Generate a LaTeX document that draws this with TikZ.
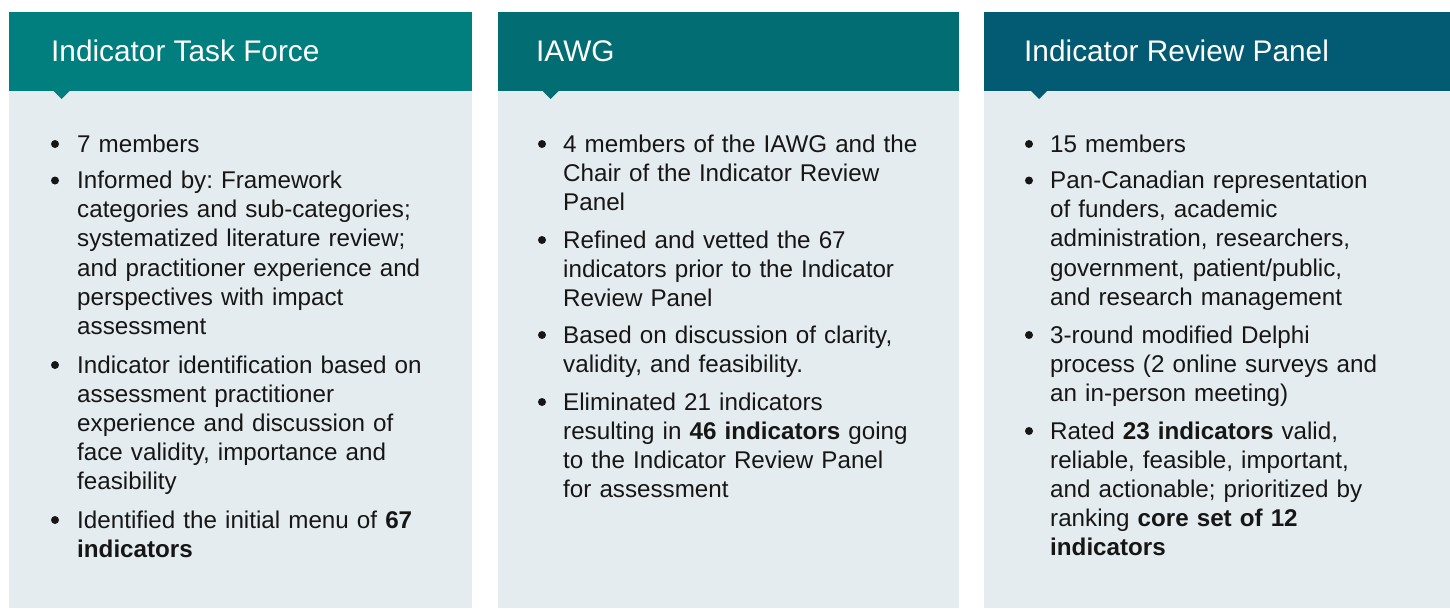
\documentclass[tikz,border=0pt]{standalone}
\usepackage{fontspec}
\setmainfont{Liberation Sans}
\frenchspacing
\definecolor{hA}{HTML}{017F7F}
\definecolor{hB}{HTML}{026E73}
\definecolor{hC}{HTML}{025B73}
\definecolor{bodybg}{HTML}{E4ECF0}
\definecolor{txt}{HTML}{161616}
\begin{document}
\begin{tikzpicture}[x=1pt,y=-1pt,
  body/.style={font=\fontsize{24.2}{29.2}\selectfont, text=txt, anchor=base west, inner sep=0pt, text width=400pt, align=left},
  head/.style={font=\fontsize{29.8}{34}\selectfont, text=white, anchor=base west, inner sep=0pt},
  dot/.style={circle, fill=txt, minimum size=8pt, inner sep=0pt}]
\useasboundingbox (0,0) rectangle (1450,608);
% panel backgrounds
\fill[bodybg] (9,91) rectangle (472,608);
\fill[bodybg] (498,91) rectangle (959,608);
\fill[bodybg] (984,91) rectangle (1450,608);
% headers
\fill[hA] (9,12) rectangle (472,91);
\fill[hA] (52.7,90) -- (70.7,90) -- (61.7,99) -- cycle;
\fill[hB] (498,12) rectangle (959,91);
\fill[hB] (541.5,90) -- (559.5,90) -- (550.5,99) -- cycle;
\fill[hC] (984,12) rectangle (1450,91);
\fill[hC] (1030,90) -- (1048,90) -- (1039,99) -- cycle;
\node[head] (hA) at (51,61.7) {Indicator Task Force};
\node[head] (hB) at (536,61.7) {IAWG};
\node[head] (hC) at (1024,61.7) {Indicator Review Panel};
% panel 1
\node[dot] (a1d) at (55,144) {};
\node[body] (a1) at (77,152) {7 members};
\node[dot] (a2d) at (55,180.5) {};
\node[body] (a2) at (77,188.5) {Informed by: Framework\\categories and sub-categories;\\systematized literature review;\\and practitioner experience and\\perspectives with impact\\assessment};
\node[dot] (a3d) at (55,365) {};
\node[body] (a3) at (77,373) {Indicator identification based on\\assessment practitioner\\experience and discussion of\\face validity, importance and\\feasibility};
\node[dot] (a4d) at (55,520) {};
\node[body] (a4) at (77,528) {Identified the initial menu of \textbf{67}\\\textbf{indicators}};
% panel 2
\node[dot] (b1d) at (542,144) {};
\node[body] (b1) at (563,152) {4 members of the IAWG and the\\Chair of the Indicator Review\\Panel};
\node[dot] (b2d) at (542,240) {};
\node[body] (b2) at (563,248) {Refined and vetted the 67\\indicators prior to the Indicator\\Review Panel};
\node[dot] (b3d) at (542,335) {};
\node[body] (b3) at (563,343) {Based on discussion of clarity,\\validity, and feasibility.};
\node[dot] (b4d) at (542,402) {};
\node[body] (b4) at (563,410) {Eliminated 21 indicators\\resulting in \textbf{46 indicators} going\\to the Indicator Review Panel\\for assessment};
% panel 3
\node[dot] (c1d) at (1029,144) {};
\node[body] (c1) at (1050,152) {15 members};
\node[dot] (c2d) at (1029,180.5) {};
\node[body] (c2) at (1050,188.5) {Pan-Canadian representation\\of funders, academic\\administration, researchers,\\government, patient/public,\\and research management};
\node[dot] (c3d) at (1029,335) {};
\node[body] (c3) at (1050,343) {3-round modified Delphi\\process (2 online surveys and\\an in-person meeting)};
\node[dot] (c4d) at (1029,431) {};
\node[body] (c4) at (1050,439) {Rated \textbf{23 indicators} valid,\\reliable, feasible, important,\\and actionable; prioritized by\\ranking \textbf{core set of 12}\\\textbf{indicators}};
\end{tikzpicture}
\end{document}
